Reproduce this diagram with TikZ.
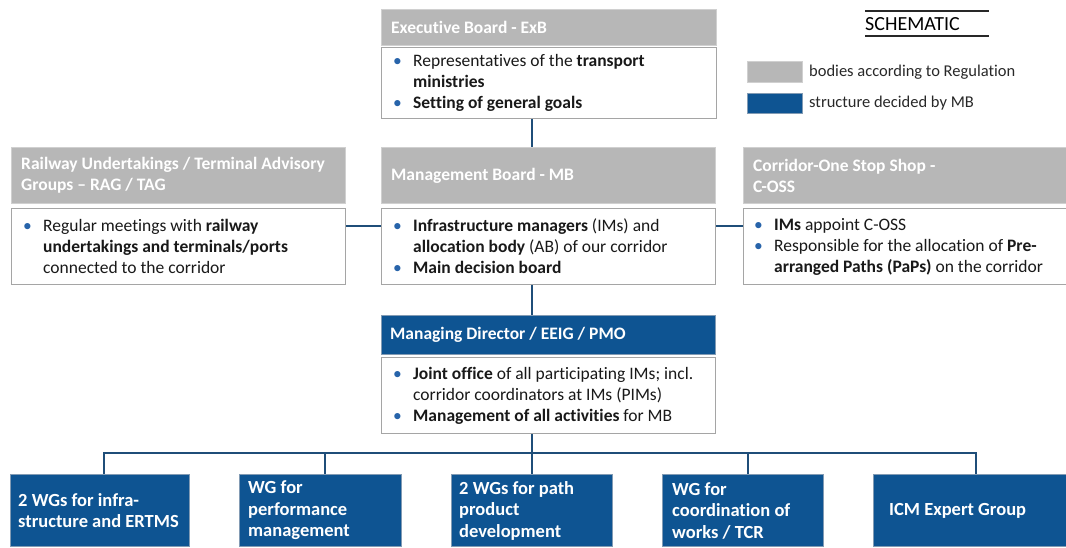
\documentclass[tikz,border=0pt]{standalone}
\usepackage{fontspec}
\setmainfont{Carlito}[Ligatures={CommonOff}]
\usetikzlibrary{calc}
\definecolor{hdrgray}{RGB}{183,183,183}
\definecolor{hdrborder}{RGB}{208,208,208}
\definecolor{bodyborder}{RGB}{165,165,165}
\definecolor{cblue}{RGB}{14,84,146}
\definecolor{cblueborder}{RGB}{130,155,180}
\definecolor{linecol}{RGB}{31,78,121}
\definecolor{bulcol}{RGB}{40,100,170}
\definecolor{txtcol}{RGB}{25,25,25}
\definecolor{legtxt}{RGB}{40,40,40}
\newcommand\bul{\makebox[21pt][l]{\hspace*{1pt}\textcolor{bulcol}{\textbullet}}}
\newcommand\ind{\hspace*{21pt}}
\tikzset{
  boxbase/.style={rectangle, anchor=north west, inner sep=0pt, line width=1pt},
  gbox/.style={boxbase, fill=hdrgray, draw=hdrborder},
  wbox/.style={boxbase, fill=white, draw=bodyborder},
  bbox/.style={boxbase, fill=cblue, draw=cblueborder},
  htext/.style={anchor=west, inner sep=0pt, align=left, text=white, font=\fontsize{17.5}{21}\selectfont\bfseries},
  btext/.style={anchor=west, inner sep=0pt, align=left, text=txtcol, font=\fontsize{17.5}{21}\selectfont},
  wgtext/.style={anchor=west, inner sep=0pt, align=left, text=white, font=\fontsize{18.5}{21.5}\selectfont\bfseries},
  legtext/.style={anchor=west, inner sep=0pt, text=legtxt, font=\fontsize{16.5}{20}\selectfont},
  conn/.style={draw=linecol, line width=1.5pt},
}
\begin{document}
\begin{tikzpicture}[x=1pt,y=-1pt]
\useasboundingbox[fill=white] (0,0) rectangle (1066,547);

% Executive Board
\node[gbox, minimum width=335pt, minimum height=36pt] (exbh) at (381,9) {};
\node[htext] (exbht) at ([xshift=10pt]exbh.west) {Executive Board - ExB};
\node[wbox, minimum width=335pt, minimum height=71pt] (exbb) at (381,47) {};
\node[btext] (exbbt) at ([xshift=11pt]exbb.west) {\bul Representatives of the \textbf{transport}\\\ind\textbf{ministries}\\\bul\textbf{Setting of general goals}};

% RAG/TAG
\node[gbox, minimum width=334pt, minimum height=56pt] (ragh) at (11,147) {};
\node[htext] (raght) at ([xshift=10pt]ragh.west) {Railway Undertakings / Terminal Advisory\\Groups -- RAG / TAG};
\node[wbox, minimum width=334pt, minimum height=76pt] (ragb) at (11,208) {};
\node[btext] (ragbt) at ([xshift=11pt]ragb.west) {\bul Regular meetings with \textbf{railway}\\\ind\textbf{undertakings and terminals/ports}\\\ind connected to the corridor};

% Management Board
\node[gbox, minimum width=334pt, minimum height=56pt] (mbh) at (381,147) {};
\node[htext] (mbht) at ([xshift=10pt]mbh.west) {Management Board - MB};
\node[wbox, minimum width=334pt, minimum height=76pt] (mbb) at (381,208) {};
\node[btext] (mbbt) at ([xshift=11pt]mbb.west) {\bul\textbf{Infrastructure managers} (IMs) and\\\ind\textbf{allocation body} (AB) of our corridor\\\bul\textbf{Main decision board}};

% C-OSS
\node[gbox, minimum width=325pt, minimum height=56pt] (cossh) at (743,147) {};
\node[htext] (cossht) at ([xshift=10pt]cossh.west) {Corridor-One Stop Shop -\\C-OSS};
\node[wbox, minimum width=325pt, minimum height=76pt] (cossb) at (743,208) {};
\node[btext] (cossbt) at ([xshift=10pt]cossb.west) {\bul\textbf{IMs} appoint C-OSS\\\bul Responsible for the allocation of \textbf{Pre-}\\\ind\textbf{arranged Paths (PaPs)} on the corridor};

% Managing Director
\node[bbox, minimum width=334pt, minimum height=39pt] (mdh) at (381,315) {};
\node[htext] (mdht) at ([xshift=9pt]mdh.west) {Managing Director / EEIG / PMO};
\node[wbox, minimum width=334pt, minimum height=76pt] (mdb) at (381,357) {};
\node[btext] (mdbt) at ([xshift=11pt]mdb.west) {\bul\textbf{Joint office} of all participating IMs; incl.\\\ind corridor coordinators at IMs (PIMs)\\\bul\textbf{Management of all activities} for MB};

% Working groups
\node[bbox, minimum width=179pt, minimum height=72pt] (wg1) at (10,474) {};
\node[wgtext] (wg1t) at ([xshift=8pt]wg1.west) {2 WGs for infra-\\structure and ERTMS};
\node[bbox, minimum width=162pt, minimum height=72pt] (wg2) at (239,474) {};
\node[wgtext] (wg2t) at ([xshift=9pt]wg2.west) {WG for\\performance\\management};
\node[bbox, minimum width=161pt, minimum height=72pt] (wg3) at (451,474) {};
\node[wgtext] (wg3t) at ([xshift=8pt]wg3.west) {2 WGs for path\\product\\development};
\node[bbox, minimum width=161pt, minimum height=72pt] (wg4) at (662,474) {};
\node[wgtext] (wg4t) at ([xshift=10pt]wg4.west) {WG for\\coordination of\\works / TCR};
\node[bbox, minimum width=196pt, minimum height=72pt] (wg5) at (873,474) {};
\node[wgtext] (wg5t) at ([xshift=16pt]wg5.west) {ICM Expert Group};

% Legend
\node[anchor=west, inner sep=0pt, text=black, font=\fontsize{20}{24}\selectfont] (schem) at (865,24) {SCHEMATIC};
\draw[draw=legtxt, line width=1.5pt] (865,11) coordinate (sl1) -- (989,11) coordinate (sr1);
\draw[draw=legtxt, line width=1.5pt] (865,36) coordinate (sl2) -- (989,36) coordinate (sr2);
\node[gbox, minimum width=55pt, minimum height=21pt] (leg1) at (747,61) {};
\node[legtext] (leg1t) at ([xshift=6pt]leg1.east) {bodies according to Regulation};
\node[bbox, minimum width=55pt, minimum height=20pt] (leg2) at (747,93) {};
\node[legtext] (leg2t) at ([xshift=6pt]leg2.east) {structure decided by MB};

% Connectors
\coordinate (spine) at (532,0);
\coordinate (sideY) at (0,226);
\coordinate (busY) at (0,453);
\coordinate (d1) at (104,0);
\coordinate (d2) at (325,0);
\coordinate (d4) at (748,0);
\coordinate (d5) at (976,0);
\draw[conn] (exbb.south -| spine) -- (mbh.north -| spine);
\draw[conn] (ragb.east |- sideY) -- (mbb.west |- sideY);
\draw[conn] (mbb.east |- sideY) -- (cossb.west |- sideY);
\draw[conn] (mbb.south -| spine) -- (mdh.north -| spine);
\draw[conn] (mdb.south -| spine) -- (wg3.north -| spine);
\draw[conn] (wg1.north -| d1) -- (d1 |- busY) -- (d5 |- busY) -- (wg5.north -| d5);
\draw[conn] (d2 |- busY) -- (wg2.north -| d2);
\draw[conn] (d4 |- busY) -- (wg4.north -| d4);
\end{tikzpicture}
\end{document}
